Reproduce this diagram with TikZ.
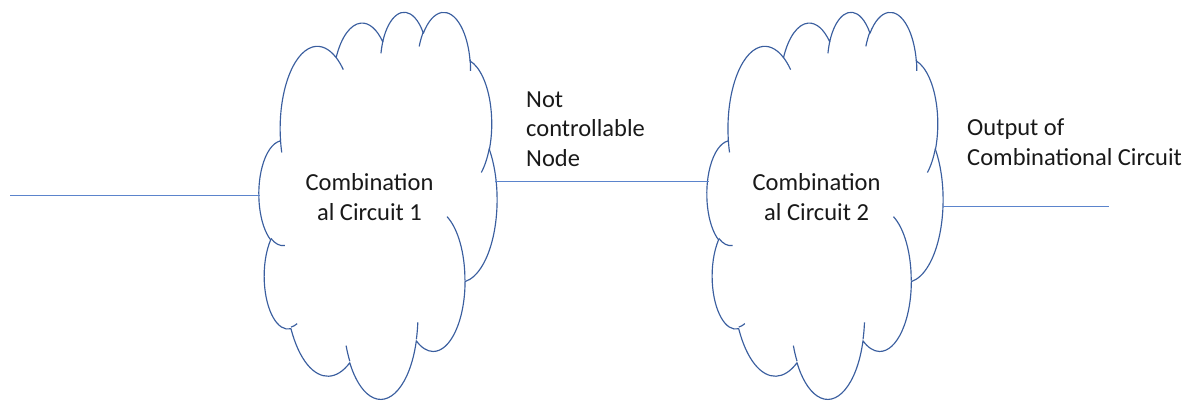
\documentclass[tikz,border=0pt]{standalone}
\usepackage{fontspec}
\setmainfont{Carlito}
\begin{document}
\begin{tikzpicture}[x=1pt,y=-1pt,
  declare function={vis(\w,\h,\a)=atan2(\w*sin(\a),\h*cos(\a));},
  cloudline/.style={draw=cloudblue,line width=1.15pt,line join=round},
  wire/.style={draw=wireblue,line width=0.8pt},
  label/.style={inner sep=0pt,font=\fontsize{24.5}{29.3}\selectfont,text=black!90},
]
\definecolor{cloudblue}{HTML}{3A5E9F}
\definecolor{wireblue}{HTML}{5B84CC}
% elliptical arc given by visual start angle and sweep (degrees)
\newcommand\oarc[4]{arc[x radius=#1,y radius=#2,start angle={vis(#1,#2,#3)},
  delta angle={mod(vis(#1,#2,#3+#4)-vis(#1,#2,#3)+720,360)}]}
% cloud outline in a 432 x 432 frame, placed at (left,top) with size w x h
\newcommand\cloudshape[4]{%
  \begin{scope}[shift={(#1,#2)},x=#3/432*1pt,y=-#4/432*1pt]
    \path[cloudline,fill=white] (39.00,143.70)
      \oarc{67.53}{91.90}{-190.4875}{123.7805}
      \oarc{53.33}{72.67}{-144.1024}{89.9452}
      \oarc{43.65}{59.45}{-145.8079}{99.7230}
      \oarc{48.57}{65.95}{-130.9861}{117.2417}
      \oarc{53.33}{72.73}{-78.7089}{109.0269}
      \oarc{67.75}{92.20}{-46.2673}{130.2690}
      \oarc{57.85}{78.67}{0.6250}{114.0333}
      \oarc{67.52}{92.15}{22.4516}{115.1726}
      \oarc{77.20}{105.43}{66.2426}{75.7110}
      \oarc{43.60}{59.18}{-274.9421}{146.7356}
      \oarc{43.45}{59.45}{-246.8285}{152.5189}
      -- cycle;
    \path[cloudline]
      (46.93,261.77) \oarc{43.45}{59.45}{86.7420}{26.4295}
      (69.28,348.99) \oarc{43.60}{59.18}{73.6105}{11.4475}
      (164.78,390.90) \oarc{67.52}{92.15}{137.6242}{14.0811}
      (288.27,347.51) \oarc{67.52}{92.15}{6.4533}{15.9984}
      (341.29,229.54) \oarc{57.85}{78.67}{-70.2924}{70.9174}
      (417.98,153.54) \oarc{53.33}{72.73}{30.3180}{27.7515}
      (383.24,54.26) \oarc{48.57}{65.95}{-13.7443}{14.8589}
      (290.78,39.52) \oarc{48.57}{65.95}{-149.1815}{18.1954}
      (221.41,47.20) \oarc{43.65}{59.45}{-163.4943}{17.6864}
      (140.00,51.92) \oarc{67.53}{91.90}{-66.7070}{12.3194}
      (41.27,157.89) \oarc{67.53}{91.90}{157.6544}{11.8582};
  \end{scope}}
\useasboundingbox[fill=white] (0,0) rectangle (1194,400);

% the two clouds
\cloudshape{259}{11}{238}{387}
\cloudshape{707}{11}{236}{387}

% texts (base anchor of a multi-line node sits on its last line)
\node[label,align=center] (c1) at (369.5,197) {Combination\\al Circuit 1};
\node[label,align=center] (c2) at (816.6,197) {Combination\\al Circuit 2};
\node[label,align=left,anchor=base west] (nc) at (526,166) {Not\\controllable\\Node};
\node[label,align=left,anchor=base west] (oc) at (967,165) {Output of\\Combinational Circuit};

% wire end points on the cloud outlines
\coordinate (in)  at (10,195);
\coordinate (c1w) at (260,195);
\coordinate (c1e) at (495,181);
\coordinate (c2w) at (709,181);
\coordinate (c2e) at (943,206);
\coordinate (out) at (1109,206);

\draw[wire] (in) -- (c1w);
\draw[wire] (c1e) -- (c2w);
\draw[wire] (c2e) -- (out);
\end{tikzpicture}
\end{document}
